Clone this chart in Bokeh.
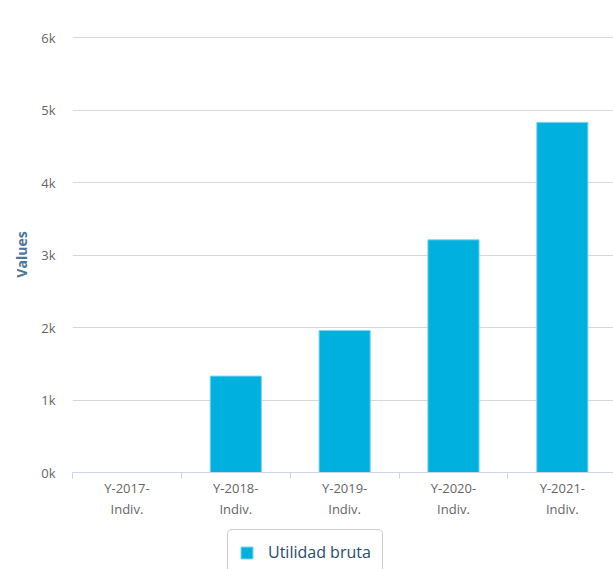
from bokeh.plotting import figure
from bokeh.layouts import column
from bokeh.models import ColumnDataSource, FixedTicker, Legend, LegendItem, Range1d
from bokeh.embed import file_html
from bokeh.resources import INLINE

categories = ["Y-2017-Indiv.", "Y-2018-Indiv.", "Y-2019-Indiv.", "Y-2020-Indiv.", "Y-2021-Indiv."]
utilidad_bruta = [0, 1330, 1960, 3210, 4830]
series_name = "Utilidad bruta"
y_ticks = [0, 1000, 2000, 3000, 4000, 5000, 6000]
y_tick_labels = ["0k", "1k", "2k", "3k", "4k", "5k", "6k"]

FONT = "Open Sans"
BAR = "#00b0de"
BAR_EDGE = "#7fd6ee"

positions = [i + 0.5 for i in range(len(categories))]
source = ColumnDataSource(dict(x=positions, top=utilidad_bruta, cat=categories))

p = figure(width=613, height=521, output_backend="svg", toolbar_location=None,
           x_range=Range1d(0, 4.97), y_range=Range1d(0, 6014),
           min_border_left=72, min_border_right=0, min_border_top=36, min_border_bottom=49)
p.outline_line_color = None
p.background_fill_color = "white"
p.border_fill_color = "white"

r = p.vbar(x="x", top="top", width=0.47, source=source, fill_color=BAR,
           line_color=BAR_EDGE, line_width=1)

# y axis
yax = p.yaxis[0]
yax.ticker = FixedTicker(ticks=y_ticks)
yax.major_label_overrides = {t: l for t, l in zip(y_ticks, y_tick_labels)}
yax.axis_line_color = None
yax.major_tick_line_color = None
yax.minor_tick_line_color = None
yax.major_label_standoff = 11
yax.major_label_text_font = FONT
yax.major_label_text_font_size = "13px"
yax.major_label_text_color = "#666666"
yax.axis_label = "Values"
yax.axis_label_text_font = FONT
yax.axis_label_text_font_size = "14px"
yax.axis_label_text_font_style = "bold"
yax.axis_label_text_color = "#4d759e"
yax.axis_label_standoff = 7

# x axis
xax = p.xaxis[0]
xax.ticker = FixedTicker(ticks=positions, minor_ticks=list(range(len(categories) + 1)))
xax.major_label_overrides = {pos: c.replace("-Indiv.", "-\nIndiv.") for pos, c in zip(positions, categories)}
xax.axis_line_color = "#ccd6eb"
xax.major_tick_line_color = None
xax.minor_tick_line_color = "#ccd6eb"
xax.minor_tick_in = 0
xax.minor_tick_out = 6
xax.major_label_standoff = 0
xax.major_label_text_font = FONT
xax.major_label_text_font_size = "13px"
xax.major_label_text_color = "#666666"
xax.major_label_text_line_height = 1.2

p.xgrid.grid_line_color = None
p.ygrid.ticker = FixedTicker(ticks=y_ticks[1:])
p.ygrid.grid_line_color = "#d8d8d8"
p.ygrid.grid_line_width = 1

# legend strip below the chart (its bars lie outside its visible ranges)
lf = figure(width=613, height=48, output_backend="svg", toolbar_location=None,
            x_range=Range1d(-101, -100), y_range=Range1d(-2, -1),
            min_border_left=72, min_border_right=0, min_border_top=0, min_border_bottom=0)
lf.axis.visible = False
lf.grid.visible = False
lf.outline_line_color = None
lf.border_fill_color = "white"
lr = lf.vbar(x="x", top="top", width=0.47, source=source, fill_color=BAR, line_color=BAR_EDGE)

legend = Legend(items=[LegendItem(label=series_name, renderers=[lr])],
                location=(155, -6), orientation="horizontal")
legend.label_text_font = FONT
legend.label_text_font_size = "16px"
legend.label_text_color = "#274b6d"
legend.glyph_width = 15
legend.glyph_height = 15
legend.border_line_color = "#999999"
legend.border_line_width = 1
legend.padding = 11
legend.margin = 0
legend.spacing = 4
legend.label_standoff = 14
legend.label_height = 18
try:
    legend.border_radius = 5
except Exception:
    pass
lf.add_layout(legend, "center")

layout = column(p, lf, spacing=0)
open("out.html", "w").write(file_html(layout, INLINE))
